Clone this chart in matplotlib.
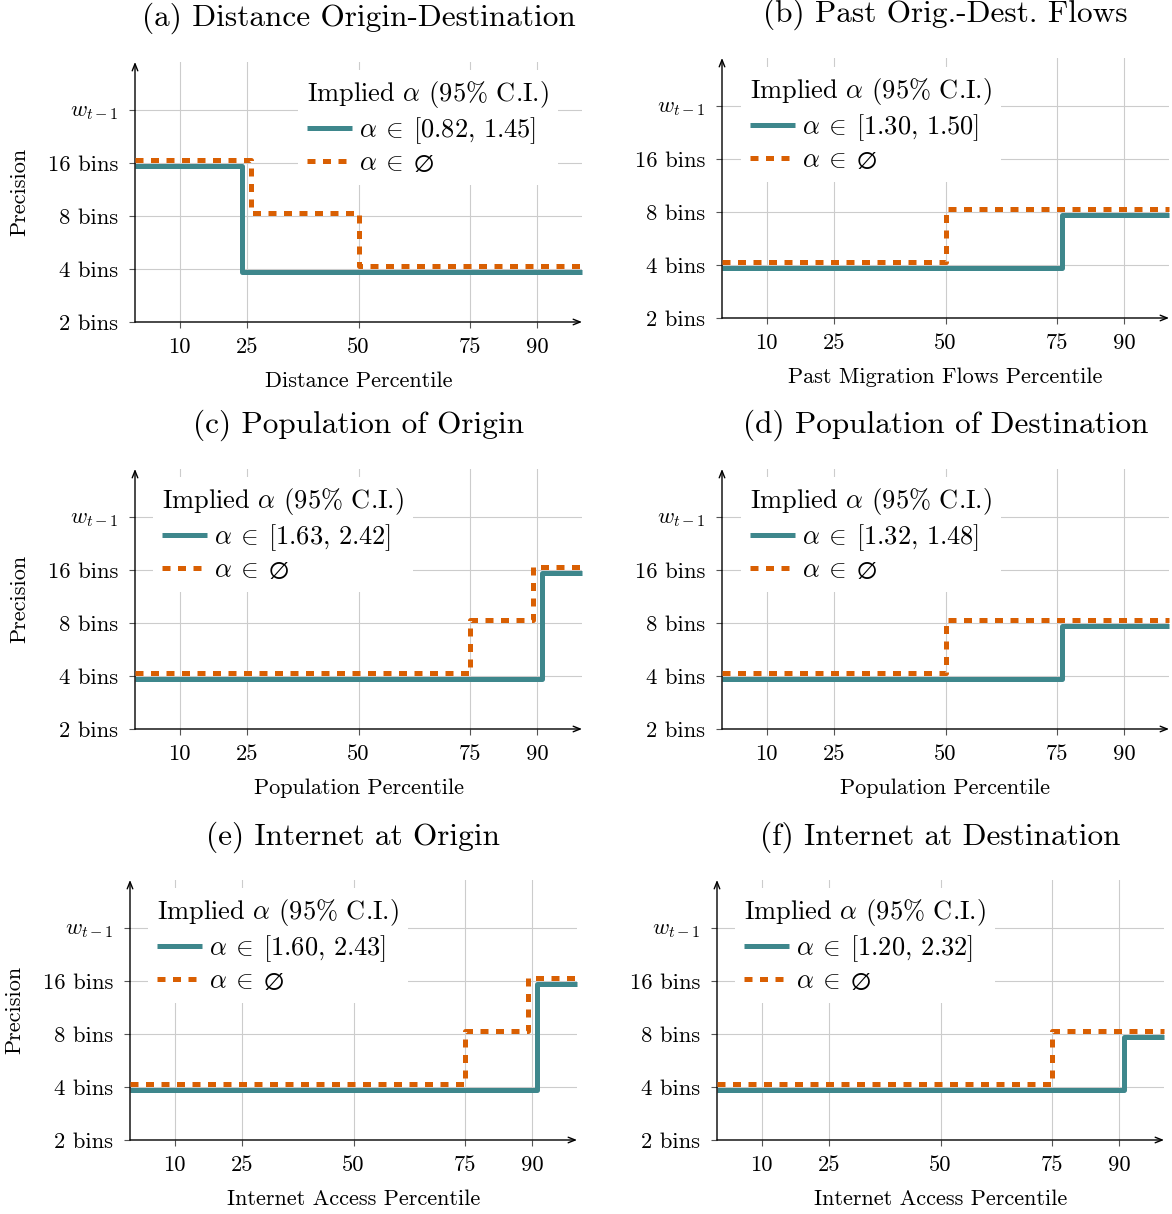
import matplotlib
matplotlib.use("Agg")
import matplotlib.pyplot as plt

plt.rcParams['font.family'] = 'serif'
plt.rcParams['font.serif'] = ['cmr10']
plt.rcParams['mathtext.fontset'] = 'cm'
plt.rcParams['axes.formatter.use_mathtext'] = True

# ---- data ----
titles = ["(a) Distance Origin-Destination", "(b) Past Orig.-Dest. Flows",
          "(c) Population of Origin", "(d) Population of Destination",
          "(e) Internet at Origin", "(f) Internet at Destination"]
xlabels = ["Distance Percentile", "Past Migration Flows Percentile",
           "Population Percentile", "Population Percentile",
           "Internet Access Percentile", "Internet Access Percentile"]
ci_labels = ["[0.82,\\,1.45]", "[1.30,\\,1.50]", "[1.63,\\,2.42]",
             "[1.32,\\,1.48]", "[1.60,\\,2.43]", "[1.20,\\,2.32]"]

# step breaks (percentile) and precision (bins) of each segment
ci_x = [[0, 24, 100], [0, 76, 100], [0, 91, 100],
        [0, 76, 100], [0, 91, 100], [0, 91, 100]]
ci_bins = [[16, 4], [4, 8], [4, 16], [4, 8], [4, 16], [4, 8]]
empty_x = [[0, 26, 50, 100], [0, 50, 100], [0, 75, 89, 100],
           [0, 50, 100], [0, 75, 89, 100], [0, 75, 100]]
empty_bins = [[16, 8, 4], [4, 8], [4, 8, 16], [4, 8], [4, 8, 16], [4, 8]]

xticks = [10, 25, 50, 75, 90]
yticklabels = ["2 bins", "4 bins", "8 bins", "16 bins", r"$w_{t-1}$"]
bin_levels = {2: 0, 4: 1, 8: 2, 16: 3}

TEAL = "#3e878c"
ORANGE = "#d95f02"

W, H = 1172, 1214
fig = plt.figure(figsize=(W / 100, H / 100), dpi=100)

# panel geometry in pixels: left, right, bottom (x axis), title y, xlabel y, legend anchor
layout = [
    (135, 582, 322, 18, 381, (285, 57)),
    (722, 1169, 318, 14, 377, (728, 54)),
    (135, 582, 729, 425, 788, (140, 464)),
    (722, 1169, 729, 425, 788, (728, 464)),
    (130, 577, 1140, 837, 1199, (135, 875)),
    (717, 1164, 1140, 837, 1199, (722, 875)),
]
ylabel_pos = {0: (20, 192), 2: (20, 599), 4: (15, 1010)}
height = 260


def step_y(bins, shift):
    ys = [bin_levels[b] + shift for b in bins]
    return ys + [ys[-1]]


for i in range(6):
    left, right, bottom, ty, xly, leg_xy = layout[i]
    ax = fig.add_axes([left / W, 1 - bottom / H, (right - left) / W, height / H])
    ax.set_xlim(0, 100)
    ax.set_ylim(0, 4.9)

    ax.step(ci_x[i], step_y(ci_bins[i], -0.055), where='post', color=TEAL, lw=3.6,
            solid_capstyle='butt', clip_on=False, zorder=3,
            label=r"$\alpha\:\in\:" + ci_labels[i] + "$")
    ax.step(empty_x[i], step_y(empty_bins[i], 0.055), where='post', color=ORANGE, lw=3.6,
            dashes=(1.6, 1.5), dash_capstyle='butt', clip_on=False, zorder=4,
            label=r"$\alpha\:\in\:\varnothing$")

    ax.set_xticks(xticks)
    ax.set_xticklabels([str(t) for t in xticks])
    ax.set_yticks(range(5))
    ax.set_yticklabels(yticklabels)
    ax.tick_params(direction='out', length=4, width=0.8, color='#555555',
                   labelsize=16.3, pad=7)
    ax.tick_params(axis='y', pad=8)
    ax.grid(color='#cccccc', lw=0.8)
    ax.set_axisbelow(True)
    for s in ax.spines.values():
        s.set_visible(False)
    ax.annotate('', xy=(1.0, 0), xytext=(0, 0), xycoords='axes fraction',
                arrowprops=dict(arrowstyle='->,head_length=0.5,head_width=0.2',
                                lw=1.0, color='black', shrinkA=0, shrinkB=0))
    ax.annotate('', xy=(0, 1.0), xytext=(0, 0), xycoords='axes fraction',
                arrowprops=dict(arrowstyle='->,head_length=0.5,head_width=0.2',
                                lw=1.0, color='black', shrinkA=0, shrinkB=0))

    leg = ax.legend(loc='upper left', bbox_to_anchor=(leg_xy[0] / W, 1 - leg_xy[1] / H),
                    bbox_transform=fig.transFigure, title=r"Implied $\alpha$ (95% C.I.)",
                    fontsize=19, title_fontsize=19, frameon=True, fancybox=False,
                    edgecolor='none', facecolor='white', framealpha=1,
                    handlelength=1.7, handletextpad=0.25, labelspacing=0.2,
                    borderpad=0.35, alignment='left')
    leg.set_zorder(5)

    fig.text((left + right) / 2 / W, 1 - ty / H, titles[i], fontsize=22.5,
             ha='center', va='center')
    fig.text((left + right) / 2 / W, 1 - xly / H, xlabels[i], fontsize=16,
             ha='center', va='center')
    if i in ylabel_pos:
        px, py = ylabel_pos[i]
        fig.text(px / W, 1 - py / H, "Precision", fontsize=16, rotation=90,
                 ha='center', va='center')

fig.savefig("out.png", dpi=100)
